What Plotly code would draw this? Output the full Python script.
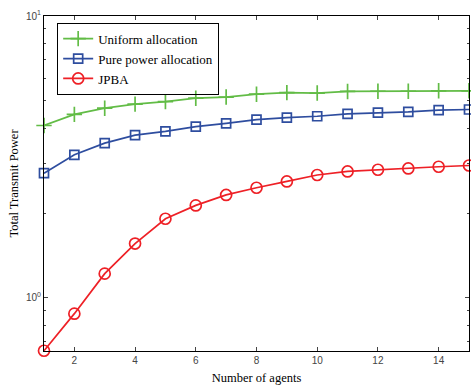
import plotly.graph_objects as go

agents = list(range(1, 16))
uniform = [4.09, 4.48, 4.71, 4.87, 4.97, 5.11, 5.16, 5.28, 5.35, 5.33, 5.40, 5.41, 5.41, 5.43, 5.43]
pure_power = [2.77, 3.22, 3.54, 3.78, 3.90, 4.05, 4.16, 4.29, 4.36, 4.41, 4.50, 4.54, 4.57, 4.64, 4.66]
jpba = [0.65, 0.88, 1.22, 1.56, 1.91, 2.13, 2.32, 2.46, 2.59, 2.73, 2.81, 2.85, 2.88, 2.92, 2.95]

x_ticks = [2, 4, 6, 8, 10, 12, 14]
y_ticks = [1, 10]
y_ticktext = ["10<sup>0</sup>", "10<sup>1</sup>"]
y_minor = [0.7, 0.8, 0.9, 2, 3, 4, 5, 6, 7, 8, 9]

GREEN = "#62BC46"
BLUE = "#2E4D9F"
RED = "#EE2026"

fig = go.Figure()
fig.add_trace(go.Scatter(x=agents, y=uniform, name="Uniform allocation", mode="lines+markers",
                         line=dict(color=GREEN, width=1.7),
                         marker=dict(symbol="cross-thin-open", size=11, line=dict(color=GREEN, width=1.7)),
                         cliponaxis=False))
fig.add_trace(go.Scatter(x=agents, y=pure_power, name="Pure power allocation", mode="lines+markers",
                         line=dict(color=BLUE, width=1.7),
                         marker=dict(symbol="square-open", size=9, line=dict(color=BLUE, width=1.7)),
                         cliponaxis=False))
fig.add_trace(go.Scatter(x=agents, y=jpba, name="JPBA", mode="lines+markers",
                         line=dict(color=RED, width=1.7),
                         marker=dict(symbol="circle-open", size=11, line=dict(color=RED, width=1.7)),
                         cliponaxis=False))

serif = "Liberation Serif, Times New Roman"
tickfont = dict(family="Liberation Sans, Arial", size=10, color="#444")
fig.update_layout(
    width=471, height=385,
    margin=dict(l=44, r=2, t=16, b=34),
    paper_bgcolor="white", plot_bgcolor="white",
    showlegend=True,
    legend=dict(x=0.031, y=0.98, xanchor="left", yanchor="top",
                bgcolor="rgba(255,255,255,0)", bordercolor="black", borderwidth=1,
                font=dict(family=serif, size=13, color="black"),
                tracegroupgap=0),
    xaxis=dict(range=[1, 15], tickvals=x_ticks, ticks="inside", ticklen=4,
               showline=True, linecolor="black", linewidth=1, mirror="allticks",
               showgrid=False, zeroline=False, tickfont=tickfont, automargin=False,
               title=dict(text="Number of agents", standoff=8,
                          font=dict(family=serif, size=12.5, color="black"))),
    yaxis=dict(type="log", range=[-0.188, 1], tickvals=y_ticks, ticktext=y_ticktext,
               ticks="inside", ticklen=4,
               minor=dict(tickvals=y_minor, ticks="inside", ticklen=2, showgrid=False),
               showline=True, linecolor="black", linewidth=1, mirror="allticks",
               showgrid=False, zeroline=False, tickfont=tickfont, automargin=False,
               title=dict(text="Total Transmit Power", standoff=4,
                          font=dict(family=serif, size=12.5, color="black"))),
)
fig.write_html("out.html", config={"displayModeBar": False},
               post_script="document.body.style.margin='0';document.body.style.overflow='hidden';")
